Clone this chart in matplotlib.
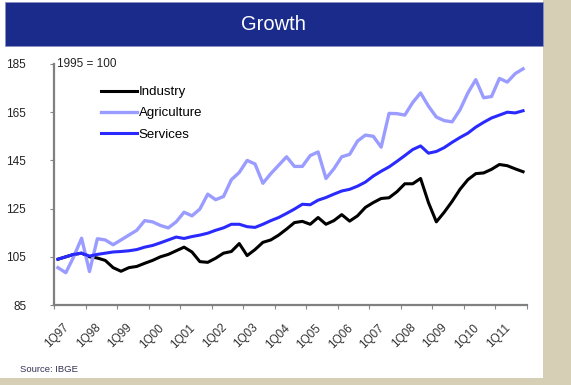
import matplotlib
matplotlib.use("Agg")
import matplotlib.pyplot as plt
from matplotlib.patches import Rectangle
from matplotlib.transforms import ScaledTranslation

plt.rcParams['font.family'] = ['Liberation Sans', 'DejaVu Sans']

# ---------------- data ----------------
years = ["97", "98", "99", "00", "01", "02", "03", "04", "05", "06", "07", "08", "09", "10", "11"]
quarters = [f"{q}Q{y}" for y in years for q in (1, 2, 3, 4)]
tick_labels = [f"1Q{y}" for y in years]

industry = [104, 105, 106, 106.5, 105, 104.5, 103.5, 100.5,
            99, 100.5, 101, 102.3, 103.5, 105, 106, 107.5,
            109, 107, 103, 102.7, 104.4, 106.5, 107.2, 110.5,
            105.5, 108, 111, 112, 114, 116.5, 119.2, 119.7,
            118.5, 121.3, 118.5, 120, 122.5, 119.8, 122, 125.5,
            127.5, 129.2, 129.5, 132, 135.3, 135.3, 137.5, 127.5,
            119.5, 123.5, 128, 133, 137, 139.5, 139.8, 141.3,
            143.3, 142.8, 141.5, 140.3]

agriculture = [100.5, 98.4, 105, 112.7, 98.9, 112.5, 112, 110,
               112, 114, 116, 120, 119.5, 118, 117, 119.5,
               123.5, 122, 124.8, 131, 128.7, 130, 137, 140,
               145, 143.5, 135.5, 139.5, 143, 146.5, 142.5, 142.5,
               147, 148.5, 137.5, 141.5, 146.5, 147.5, 153, 155.5,
               155, 150.5, 164.5, 164.4, 163.8, 169, 173, 167.5,
               163, 161.5, 161, 166, 173, 178.5, 171, 171.5,
               179, 177.5, 181, 183]

services = [104, 105, 106, 106.5, 105.3, 106, 106.5, 107,
            107.2, 107.5, 108, 109, 109.7, 110.8, 112, 113.2,
            112.6, 113.4, 114, 114.8, 116, 117, 118.5, 118.5,
            117.5, 117.2, 118.5, 120, 121.3, 123, 124.8, 126.8,
            126.6, 128.5, 129.6, 131, 132.3, 133, 134.3, 136,
            138.5, 140.5, 142.3, 144.6, 147, 149.5, 151, 148,
            148.7, 150.3, 152.5, 154.5, 156.3, 158.8, 160.8, 162.6,
            163.8, 165, 164.7, 165.6]

series_names = ["Industry", "Agriculture", "Services"]
series_colors = ["#000000", "#9a9cff", "#2a2aff"]
y_ticks = [85, 105, 125, 145, 165, 185]

# ---------------- figure ----------------
W, H = 571, 385
fig = plt.figure(figsize=(W / 100, H / 100), dpi=100)
fig.patch.set_facecolor("white")

def px_rect(x0, y0, x1, y1, **kw):
    # pixel coords with origin at top-left
    r = Rectangle((x0 / W, 1 - y1 / H), (x1 - x0) / W, (y1 - y0) / H,
                  transform=fig.transFigure, **kw)
    fig.patches.append(r)

# beige background strips
px_rect(543, 0, 571, 385, facecolor="#d6cfb6", edgecolor="none")
px_rect(0, 378, 571, 385, facecolor="#d6cfb6", edgecolor="none")
# title bar
px_rect(5, 2, 543, 46, facecolor="#1a2b8c", edgecolor="#8a90c0", linewidth=0.6)
fig.text(273 / W, 1 - 25 / H, "Growth", color="white", fontsize=14.5,
         ha="center", va="center")

# ---------------- axes ----------------
ax = fig.add_axes([54 / W, (H - 305) / H, 473 / W, 241 / H])
ax.set_facecolor("white")
x = list(range(len(quarters)))
for vals, name, col, lw in zip([industry, agriculture, services], series_names,
                               series_colors, [2.2, 2.4, 2.2]):
    ax.plot(x, vals, color=col, lw=lw, label=name, solid_joinstyle="round")

ax.set_xlim(-0.5, len(quarters) - 0.5)
ax.set_ylim(85, 185)
ax.set_yticks(y_ticks)
ax.set_yticklabels([str(v) for v in y_ticks], fontsize=8.5, color="#222222")
ax.tick_params(axis="y", direction="out", length=3, width=0.8, color="#888888", pad=17)

ax.set_xticks(range(0, len(quarters), 4))
ax.set_xticklabels(tick_labels, rotation=45, ha="right", va="top",
                   rotation_mode="anchor", fontsize=8.5, color="#333333")
ax.tick_params(axis="x", which="major", length=0, pad=12)
shift = ScaledTranslation(5 / 100, 0, fig.dpi_scale_trans)
for lbl in ax.get_xticklabels():
    lbl.set_transform(lbl.get_transform() + shift)
ax.set_xticks([i - 0.5 for i in range(0, len(quarters) + 1, 4)], minor=True)
ax.tick_params(axis="x", which="minor", direction="out", length=3, width=0.8, color="#888888")

for s in ["top", "right"]:
    ax.spines[s].set_visible(False)
for s in ["left", "bottom"]:
    ax.spines[s].set_color("#808080")
    ax.spines[s].set_linewidth(1.6)

ax.text(0.006, 1.0, "1995 = 100", transform=ax.transAxes, fontsize=8.5,
        color="#222222", ha="left", va="center")

leg = ax.legend(loc="upper left", bbox_to_anchor=(101 / W, 1 - 86 / H),
                bbox_transform=fig.transFigure, frameon=False, fontsize=9.5,
                handlelength=2.7, handletextpad=0.15, labelspacing=0.68,
                borderaxespad=0, borderpad=0)

fig.text(20 / W, 1 - 370 / H, "Source: IBGE", fontsize=6.8, color="#333355",
         ha="left", va="center")

fig.savefig("out.png", dpi=100, facecolor=fig.get_facecolor())
